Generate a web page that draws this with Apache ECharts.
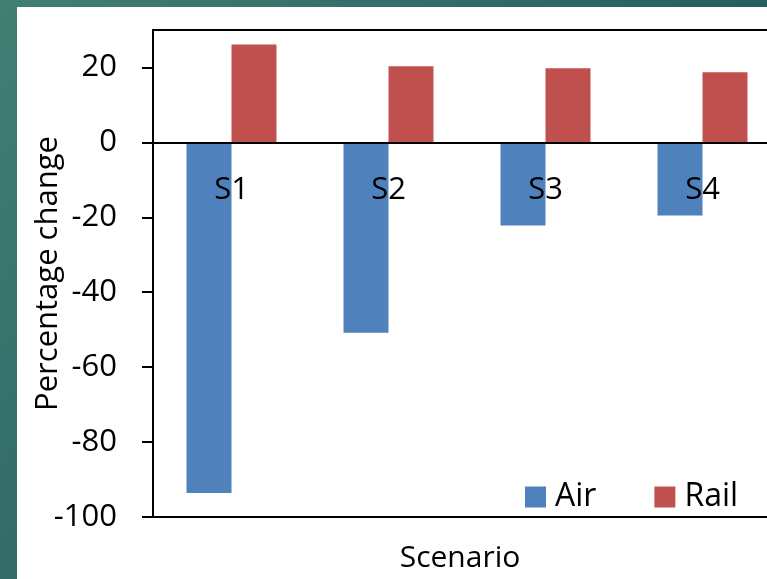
<!DOCTYPE html>
<html>
<head>
<meta charset="utf-8">
<title>Percentage change by scenario</title>
<script src="https://cdn.jsdelivr.net/npm/echarts@6/dist/echarts.min.js"></script>
<style>
  html, body { margin: 0; padding: 0; }
  #chart { width: 767px; height: 579px; }
</style>
</head>
<body>
<div id="chart"></div>
<script>
// Scenario results: percentage change in demand by mode
const categories = ['S1', 'S2', 'S3', 'S4'];
const airValues = [-93.6, -50.8, -22.2, -19.5];
const railValues = [26.1, 20.3, 19.8, 18.7];
const yTicks = [-100, -80, -60, -40, -20, 0, 20];

const FONT = 'Open Sans';
const Y_MIN = -100;
const Y_MAX = 30;
const GRID_TOP = 30;
const GRID_HEIGHT = 487;

// distance from the bottom of the grid up to the zero line
const zeroOffset = GRID_HEIGHT * (0 - Y_MIN) / (Y_MAX - Y_MIN);

const chart = echarts.init(document.getElementById('chart'), null, { renderer: 'canvas' });

chart.setOption({
  animation: false,
  backgroundColor: new echarts.graphic.LinearGradient(0, 0, 1, 1, [
    { offset: 0, color: '#417f73' },
    { offset: 0.5, color: '#2d6465' },
    { offset: 1, color: '#1e4d57' }
  ]),
  textStyle: { fontFamily: FONT },
  graphic: [
    {
      type: 'rect',
      z: -10,
      shape: { x: 17, y: 7, width: 760, height: 580 },
      style: { fill: '#ffffff' }
    },
    {
      type: 'text',
      x: 460,
      y: 558,
      style: {
        text: 'Scenario',
        fontFamily: FONT,
        fontSize: 30,
        fill: '#000',
        textAlign: 'center',
        textVerticalAlign: 'middle'
      }
    }
  ],
  grid: {
    left: 153,
    top: GRID_TOP,
    width: 628,
    height: GRID_HEIGHT,
    containLabel: false,
    outerBoundsMode: 'none',
    show: true,
    backgroundColor: 'transparent',
    borderColor: '#000',
    borderWidth: 2
  },
  legend: {
    left: 520,
    top: 476,
    icon: 'rect',
    itemWidth: 21,
    itemGap: 58,
    itemHeight: 21,
    selectedMode: false,
    textStyle: { fontFamily: FONT, fontSize: 32, color: '#000', padding: [0, 0, 0, 4] },
    data: ['Air', 'Rail']
  },
  xAxis: {
    type: 'category',
    data: categories,
    position: 'bottom',
    offset: -zeroOffset,
    z: 10,
    axisLine: { onZero: false, lineStyle: { color: '#000', width: 2 } },
    axisTick: { show: false },
    axisLabel: {
      margin: 32,
      fontFamily: FONT,
      fontSize: 31,
      color: '#000'
    },
    splitLine: { show: false }
  },
  yAxis: {
    type: 'value',
    min: Y_MIN,
    max: Y_MAX,
    interval: 20,
    name: 'Percentage change',
    nameLocation: 'middle',
    nameGap: 89,
    nameMoveOverlap: false,
    nameTextStyle: { fontFamily: FONT, fontSize: 31, color: '#000' },
    axisLine: { show: true, lineStyle: { color: '#000', width: 2 } },
    axisTick: {
      show: true,
      length: 11,
      customValues: yTicks,
      lineStyle: { color: '#000', width: 2 }
    },
    axisLabel: {
      margin: 36,
      customValues: yTicks,
      fontFamily: FONT,
      fontSize: 31,
      color: '#000'
    },
    splitLine: { show: false }
  },
  series: [
    {
      name: 'Air',
      type: 'bar',
      data: airValues,
      barGap: '0%',
      barCategoryGap: '42.7%',
      itemStyle: { color: '#4f81bd' }
    },
    {
      name: 'Rail',
      type: 'bar',
      data: railValues,
      barGap: '0%',
      barCategoryGap: '42.7%',
      itemStyle: { color: '#c0504d' }
    }
  ]
});
</script>
</body>
</html>
